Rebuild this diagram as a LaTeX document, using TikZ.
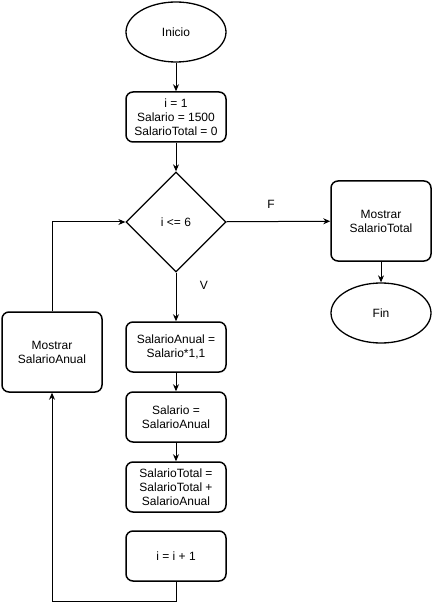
\documentclass[tikz,border=0pt]{standalone}
\usepackage{fontspec}
\setmainfont{Liberation Sans}
\usetikzlibrary{shapes.geometric,arrows.meta}
\begin{document}
\begin{tikzpicture}[x=1pt,y=-1pt]
        \tikzstyle{terminal}=[ellipse, draw, line width=1.3pt, minimum width=100pt, minimum height=60pt, inner sep=0pt, font=\fontsize{12}{14}\selectfont]
        \tikzstyle{process}=[rectangle, rounded corners=7pt, draw, line width=1.5pt, minimum width=100pt, minimum height=50pt, inner sep=0pt, align=center, font=\fontsize{12}{14}\selectfont]
        \tikzstyle{decision}=[diamond, draw, line width=1.3pt, minimum width=100pt, minimum height=100pt, aspect=1, inner sep=0pt, font=\fontsize{12}{14}\selectfont]
        \tikzstyle{flow}=[-{Stealth[length=7pt,width=6pt]}, line width=1pt]

        \useasboundingbox (0,0) rectangle (432,609);

        \node[terminal] (ini) at (176,32) {Inicio};
        \node[process] (init) at (176,117) {i = 1\\Salario = 1500\\SalarioTotal = 0};
        \node[decision] (cond) at (176,222) {i <= 6};
        \node[process, minimum height=80pt] (mtot) at (381,221) {Mostrar\\SalarioTotal};
        \node[terminal] (fin) at (381,313) {Fin};
        \node[process] (anual) at (176,347) {SalarioAnual =\\Salario*1,1};
        \node[process] (sal) at (176,417) {Salario =\\SalarioAnual};
        \node[process] (tot) at (176,487) {SalarioTotal =\\SalarioTotal +\\SalarioAnual};
        \node[process] (inc) at (176,556) {i = i + 1};
        \node[process, minimum height=80pt] (manual) at (52,352) {Mostrar\\SalarioAnual};

        \draw[flow] (ini) -- (init);
        \draw[flow] (init) -- (cond);
        \draw[flow] (cond) -- node[pos=0.43, above=9pt, font=\fontsize{12}{14}\selectfont] {F} (mtot);
        \draw[flow] (mtot) -- (fin);
        \draw[flow] (cond) -- node[pos=0.26, right=20pt, font=\fontsize{12}{14}\selectfont] {V} (anual);
        \draw[flow] (anual) -- (sal);
        \draw[flow] (sal) -- (tot);
        \draw[flow] (inc.south) -- ++(0,20) -| (manual.south);
        \draw[flow] (manual.north) |- (cond.west);
    \end{tikzpicture}
\end{document}
